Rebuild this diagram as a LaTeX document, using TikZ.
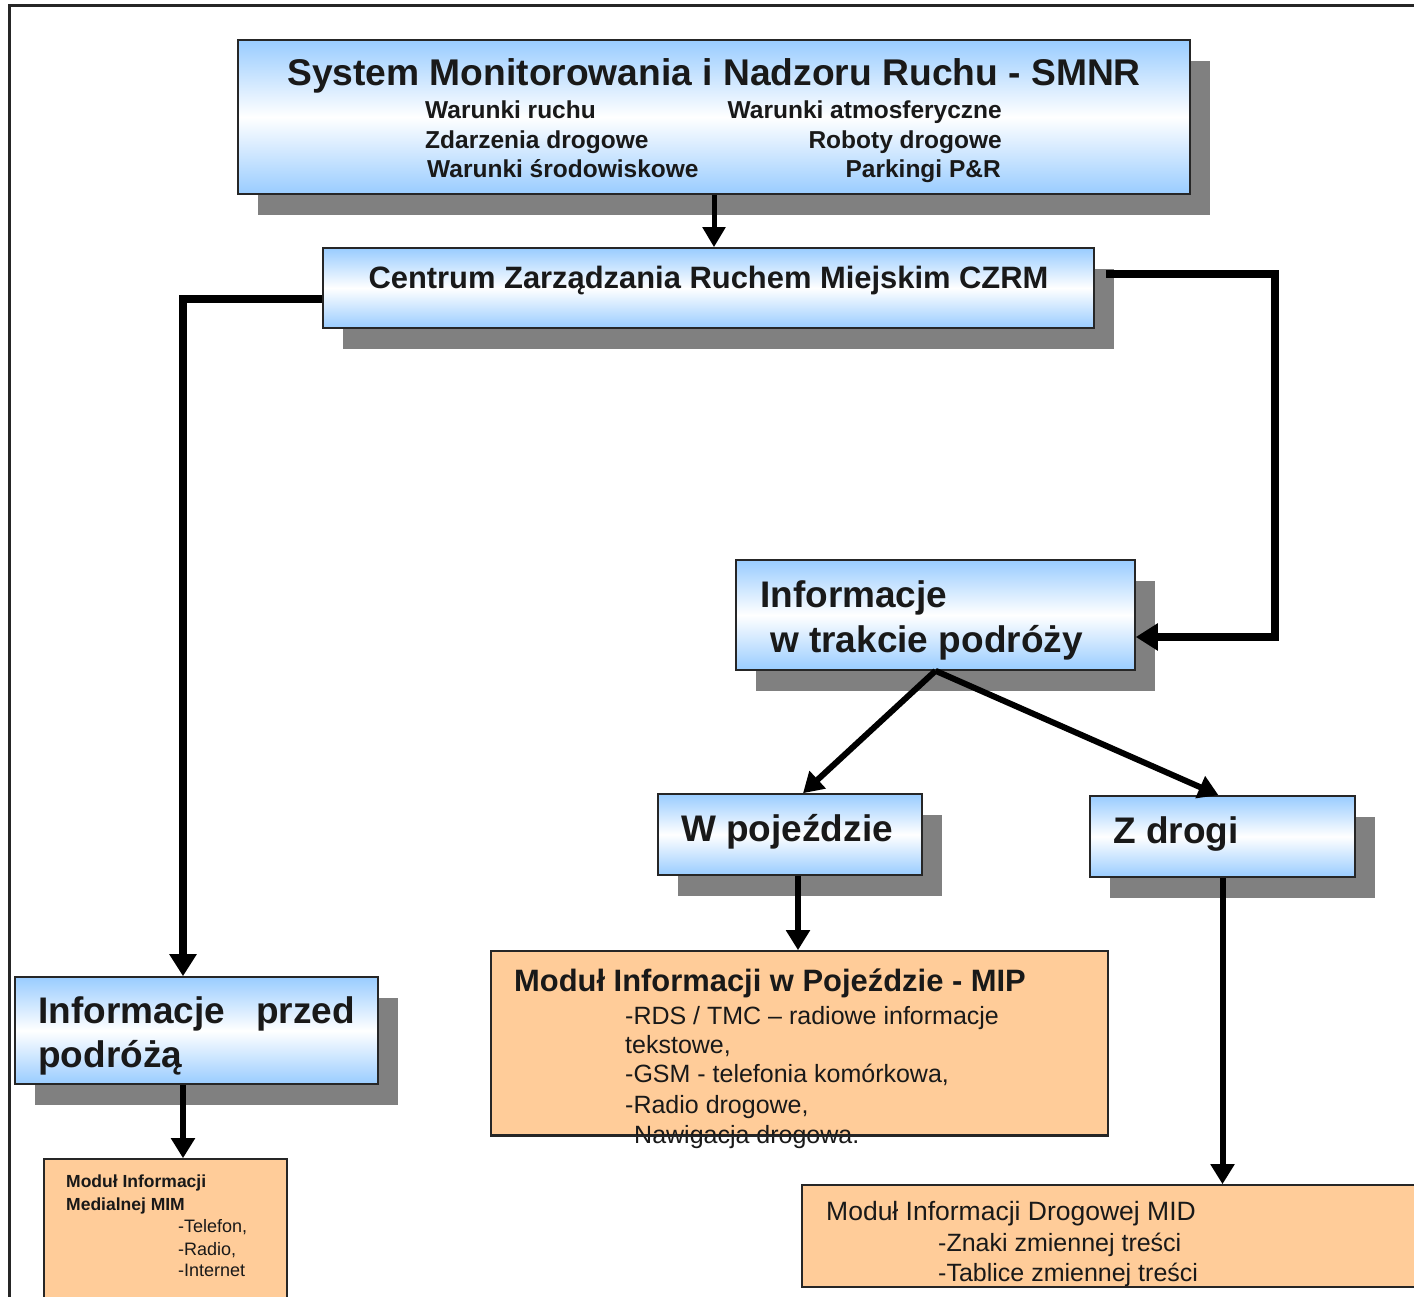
\documentclass[tikz,border=0pt]{standalone}
\usepackage{fontspec}
\setmainfont{Liberation Sans}
\usetikzlibrary{arrows.meta,shadows}
\definecolor{boxblue}{HTML}{99CCFF}
\definecolor{shgray}{HTML}{808080}
\definecolor{modorange}{HTML}{FFCC99}
\newcommand{\fsz}[1]{\fontsize{#1}{#1}\selectfont}
\begin{document}
\begin{tikzpicture}[x=1pt,y=-1pt,
  bluebox/.style={draw=black!85, line width=1.6pt, top color=boxblue, bottom color=boxblue, middle color=white, inner sep=0pt,
    general shadow={fill=shgray, shadow xshift=20pt, shadow yshift=-21pt}},
  modbox/.style={draw=black!85, line width=1.6pt, fill=modorange, inner sep=0pt},
  txt/.style={inner sep=0pt, anchor=base west, text=black!90},
  conn/.style={line width=8pt, -{Triangle[length=22pt,width=26pt]}},
  connthin/.style={line width=6pt, -{Triangle[length=20pt,width=23pt]}},
  frameline/.style={line width=3pt, draw=black!85}
]
\clip (0,0) rectangle (1414,1297);
\fill[white] (0,0) rectangle (1414,1297);
\draw[frameline] (9,1300) -- (9,6) -- (1420,6);

% boxes
\node[bluebox, minimum width=952pt, minimum height=154pt] (smnr) at (714,117) {};
\node[bluebox, minimum width=771pt, minimum height=80pt] (czrm) at (708.5,288) {};
\node[bluebox, minimum width=399pt, minimum height=110pt] (trakcie) at (935.5,615) {};
\node[bluebox, minimum width=264pt, minimum height=81pt] (wpoj) at (790,834.5) {};
\node[bluebox, minimum width=265pt, minimum height=81pt] (zdrogi) at (1222.5,836.5) {};
\node[bluebox, minimum width=363pt, minimum height=107pt] (przed) at (196.5,1030.5) {};
\node[modbox, minimum width=243pt, minimum height=151pt] (mim) at (165.5,1234.5) {};
\node[modbox, minimum width=617pt, minimum height=184pt] (mip) at (799.5,1043) {};
\node[modbox, minimum width=623pt, minimum height=102pt] (mid) at (1113.5,1236) {};

% SMNR texts
\node[txt, anchor=base, font=\fsz{37.2}\bfseries] (smnrT) at (714,86) {System Monitorowania i Nadzoru Ruchu - SMNR};
\node[txt, font=\fsz{24.5}\bfseries] (s1) at (425,119) {Warunki ruchu};
\node[txt, font=\fsz{24.5}\bfseries] (s2) at (425,149) {Zdarzenia drogowe};
\node[txt, font=\fsz{24.5}\bfseries] (s3) at (427,178) {Warunki środowiskowe};
\node[txt, anchor=base east, font=\fsz{24.5}\bfseries] (s4) at (1002,119) {Warunki atmosferyczne};
\node[txt, anchor=base east, font=\fsz{24.5}\bfseries] (s5) at (1002,149) {Roboty drogowe};
\node[txt, anchor=base east, font=\fsz{24.5}\bfseries] (s6) at (1001,178) {Parkingi P\&R};

% CZRM
\node[txt, anchor=base, font=\fsz{30.9}\bfseries] (czrmT) at (708.5,289) {Centrum Zarządzania Ruchem Miejskim CZRM};

% Informacje w trakcie podrozy
\node[txt, font=\fsz{37}\bfseries] (tr1) at (760,607) {Informacje};
\node[txt, font=\fsz{37}\bfseries] (tr2) at (770,652) {w trakcie podróży};

\node[txt, anchor=base, font=\fsz{37}\bfseries] (wpojT) at (787,841) {W pojeździe};
\node[txt, font=\fsz{37}\bfseries] (zdrogiT) at (1113,843) {Z drogi};

% przed podroza
\node[txt, font=\fsz{37}\bfseries] (pr1) at (38,1023) {Informacje};
\node[txt, anchor=base east, font=\fsz{37}\bfseries] (pr2) at (355,1023) {przed};
\node[txt, font=\fsz{37}\bfseries] (pr3) at (38,1067) {podróżą};

% MIM
\node[txt, font=\fsz{17.5}\bfseries] (mim1) at (66,1187) {Moduł Informacji};
\node[txt, font=\fsz{17.5}\bfseries] (mim2) at (66,1210) {Medialnej MIM};
\node[txt, font=\fsz{18}] (mim3) at (178,1232) {-Telefon,};
\node[txt, font=\fsz{18}] (mim4) at (178,1255) {-Radio,};
\node[txt, font=\fsz{18}] (mim5) at (178,1276) {-Internet};

% MIP
\node[txt, font=\fsz{30.9}\bfseries] (mip1) at (514,991) {Moduł Informacji w Pojeździe - MIP};
\node[txt, font=\fsz{25}] (mip2) at (625,1024) {-RDS / TMC – radiowe informacje};
\node[txt, font=\fsz{25}] (mip3) at (625,1053) {tekstowe,};
\node[txt, font=\fsz{25}] (mip4) at (625,1082) {-GSM - telefonia komórkowa,};
\node[txt, font=\fsz{25}] (mip5) at (625,1113) {-Radio drogowe,};
\node[txt, font=\fsz{25}] (mip6) at (634,1143) {Nawigacja drogowa.};
\draw[line width=1.6pt, draw=black!85] (mip.south west) -- (mip.south east);

% MID
\node[txt, font=\fsz{26.5}] (mid1) at (826,1220.5) {Moduł Informacji Drogowej MID};
\node[txt, font=\fsz{25}] (mid2) at (938,1251) {-Znaki zmiennej treści};
\node[txt, font=\fsz{25}] (mid3) at (938,1281) {-Tablice zmiennej treści};

% connectors
\draw[line width=5pt, -{Triangle[length=20pt,width=22pt]}] (smnr.south) -- (smnr.south |- czrm.north);
\draw[conn] ([shift={(11pt,14pt)}]czrm.east) -- ++(169,0) |- ([yshift=-22pt]trakcie.east);
\draw[conn] ([yshift=-11pt]czrm.west) -| ([xshift=-13.5pt]przed.north);
\draw[connthin] (trakcie.south) -- ([xshift=13pt]wpoj.north);
\draw[connthin] (trakcie.south) -- ([xshift=-4pt]zdrogi.north);
\draw[connthin] ([xshift=8pt]wpoj.south) -- ([xshift=8pt]wpoj.south |- mip.north);
\draw[connthin] (zdrogi.south) -- (zdrogi.south |- mid.north);
\draw[connthin] ([xshift=-13.5pt]przed.south) -- ([xshift=-13.5pt]przed.south |- mim.north);
\end{tikzpicture}
\end{document}
